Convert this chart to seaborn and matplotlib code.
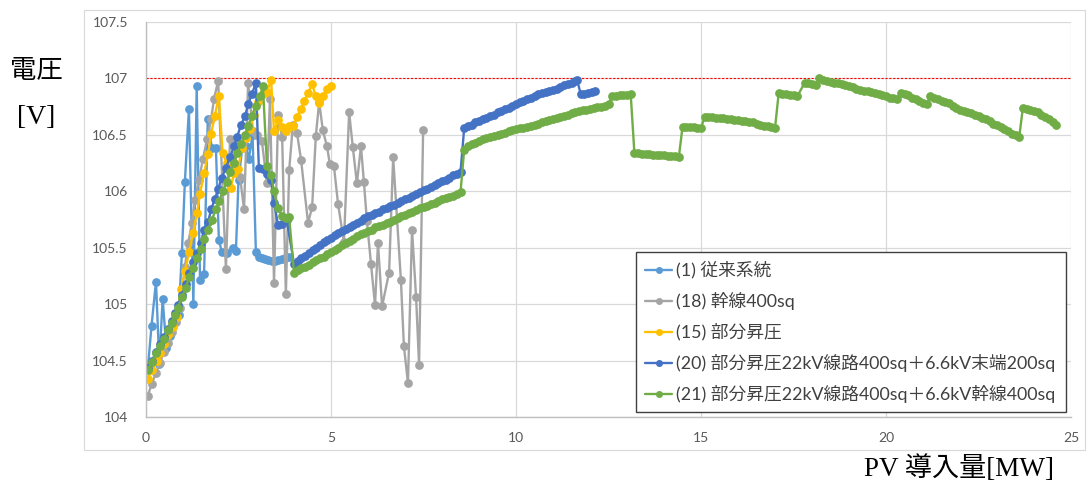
import matplotlib
matplotlib.use('Agg')
import matplotlib.pyplot as plt
import seaborn as sns
from matplotlib.patches import Rectangle

# (1) 従来系統
x1 = [0.05, 0.15, 0.27, 0.36, 0.45, 0.55, 0.66, 0.78, 0.88, 0.97, 1.05, 1.16, 1.28, 1.37, 1.46, 1.57, 1.67, 1.78,
      1.89, 1.97, 2.05, 2.19, 2.35, 2.43, 2.5, 2.6, 2.7, 2.78, 2.88, 2.97, 3.05, 3.14, 3.22, 3.31, 3.4, 3.49, 3.58,
      3.67, 3.76, 3.87]
y1 = [104.43, 104.81, 105.2, 104.47, 105.05, 104.61, 104.72, 104.85, 104.9, 105.45, 106.08, 106.73, 105.0, 106.93,
      105.21, 105.27, 106.64, 106.38, 106.38, 105.57, 105.46, 105.45, 105.5, 105.47, 106.1, 106.38, 106.4, 106.29,
      106.5, 105.46, 105.42, 105.41, 105.4, 105.39, 105.38, 105.38, 105.39, 105.4, 105.41, 105.42]

# (18) 幹線400sq
x2 = [0.05, 0.15, 0.27, 0.38, 0.49, 0.59, 0.7, 0.81, 0.92, 1.05, 1.14, 1.24, 1.32, 1.43, 1.54, 1.65, 1.76, 1.84, 1.95,
      2.16, 2.27, 2.38, 2.46, 2.54, 2.65, 2.76, 2.89, 3.0, 3.13, 3.27, 3.35, 3.46, 3.57, 3.68, 3.78, 3.87, 3.97, 4.08,
      4.19, 4.38, 4.49, 4.59, 4.68, 4.78, 4.89, 4.97, 5.08, 5.19, 5.35, 5.49, 5.59, 5.7, 5.81, 5.89, 5.97, 6.08, 6.19,
      6.27, 6.38, 6.57, 6.68, 6.89, 6.97, 7.08, 7.19, 7.3, 7.38, 7.49]
y2 = [104.19, 104.29, 104.39, 104.48, 104.58, 104.66, 104.75, 104.84, 104.97, 105.33, 105.54, 105.72, 105.92, 106.1,
      106.29, 106.46, 106.64, 106.82, 106.98, 105.31, 106.46, 106.42, 106.2, 106.13, 105.84, 106.96, 106.53, 106.5,
      106.45, 106.07, 106.82, 105.19, 106.68, 106.48, 105.09, 106.19, 106.59, 106.52, 106.28, 105.72, 105.86, 106.49,
      106.79, 106.54, 106.4, 106.24, 106.22, 105.89, 105.55, 106.7, 106.39, 106.07, 106.4, 106.08, 105.74, 105.36,
      104.99, 105.54, 104.98, 105.28, 106.3, 105.21, 104.63, 104.3, 105.66, 105.06, 104.46, 106.54]

# (15) 部分昇圧
x3 = [0.05, 0.17, 0.29, 0.39, 0.49, 0.6, 0.72, 0.83, 0.95, 1.05, 1.17, 1.27, 1.38, 1.46, 1.57, 1.68, 1.76, 1.86, 1.97,
      2.07, 2.18, 2.29, 2.38, 2.49, 2.59, 2.7, 2.81, 2.92, 3.03, 3.16, 3.27, 3.38, 3.46, 3.57, 3.68, 3.78, 3.87, 3.97,
      4.08, 4.19, 4.27, 4.38, 4.49, 4.59, 4.68, 4.78, 4.89, 5.0]
y3 = [104.34, 104.42, 104.5, 104.57, 104.65, 104.73, 104.8, 104.89, 105.13, 105.29, 105.46, 105.63, 105.81, 105.98,
      106.16, 106.33, 106.51, 106.67, 106.84, 106.34, 106.25, 106.03, 106.16, 106.2, 106.38, 106.47, 106.55, 106.68,
      106.79, 106.86, 106.88, 106.99, 106.53, 106.63, 106.57, 106.53, 106.58, 106.58, 106.66, 106.73, 106.8, 106.87,
      106.95, 106.84, 106.78, 106.84, 106.91, 106.93]

# (20) 部分昇圧22kV線路400sq＋6.6kV末端200sq
x4 = [0.05, 0.17, 0.27, 0.38, 0.49, 0.59, 0.7, 0.78, 0.86, 0.97, 1.08, 1.16, 1.27, 1.38, 1.48, 1.57, 1.68, 1.76, 1.86,
      1.95, 2.05, 2.16, 2.27, 2.38, 2.46, 2.57, 2.68, 2.76, 2.86, 2.97, 3.05, 3.16, 3.27, 3.38, 3.46, 3.57, 3.68, 3.8,
      4.0, 4.1, 4.2, 4.3, 4.4, 4.5, 4.6, 4.7, 4.8, 4.9, 5.0, 5.1, 5.2, 5.3, 5.4, 5.5, 5.6, 5.7, 5.8, 5.9, 6.0, 6.1,
      6.2, 6.3, 6.4, 6.5, 6.6, 6.7, 6.8, 6.9, 7.0, 7.1, 7.2, 7.3, 7.4, 7.5, 7.6, 7.7, 7.8, 7.9, 8.0, 8.1, 8.2, 8.3,
      8.4, 8.5,
      8.6, 8.7, 8.8, 8.9, 9.0, 9.1, 9.2, 9.3, 9.4, 9.5, 9.6, 9.7, 9.8, 9.9, 10.0, 10.1, 10.2, 10.3, 10.4, 10.5,
      10.6, 10.7, 10.8, 10.9, 11.0, 11.1, 11.2, 11.3, 11.4, 11.5, 11.6, 11.65, 11.75, 11.85, 11.95, 12.05, 12.14]
y4 = [104.43, 104.5, 104.58, 104.65, 104.71, 104.78, 104.85, 104.92, 104.99, 105.08, 105.18, 105.28, 105.37, 105.45,
      105.54, 105.66, 105.73, 105.84, 105.93, 106.02, 106.12, 106.21, 106.3, 106.4, 106.48, 106.59, 106.67, 106.77,
      106.86, 106.96, 106.21, 106.2, 106.15, 106.1, 105.9, 105.7, 105.71, 105.75,
      105.36, 105.38, 105.41, 105.43, 105.45, 105.48, 105.5, 105.52, 105.55, 105.57, 105.59, 105.61, 105.63, 105.65,
      105.67, 105.68, 105.7, 105.72, 105.74, 105.76, 105.78, 105.79, 105.81, 105.82, 105.84, 105.85, 105.87, 105.88,
      105.9, 105.91, 105.93, 105.94, 105.96, 105.98, 105.99, 106.01, 106.02, 106.04, 106.06, 106.07, 106.09, 106.1,
      106.12, 106.14, 106.15, 106.17,
      106.56, 106.58, 106.59, 106.61, 106.62, 106.64, 106.65, 106.67, 106.68, 106.7, 106.71, 106.73, 106.74, 106.76,
      106.77, 106.79, 106.8, 106.82, 106.83, 106.84, 106.86, 106.87, 106.88, 106.89, 106.9, 106.91, 106.92, 106.94,
      106.95, 106.96, 106.98, 106.99, 106.86, 106.86, 106.87, 106.88, 106.89]

# (21) 部分昇圧22kV線路400sq＋6.6kV幹線400sq
x5 = [0.05, 0.17, 0.27, 0.38, 0.49, 0.59, 0.7, 0.78, 0.86, 0.97, 1.08, 1.16, 1.27, 1.38, 1.49, 1.57, 1.68, 1.78, 1.89,
      1.97, 2.08, 2.18, 2.27, 2.38, 2.46, 2.57, 2.68, 2.76, 2.86, 2.97, 3.08, 3.16, 3.27, 3.38, 3.46, 3.57, 3.68, 3.78,
      3.87,
      4.0, 4.1, 4.2, 4.3, 4.4, 4.5, 4.6, 4.7, 4.8, 4.9, 5.0, 5.1, 5.2, 5.3, 5.4, 5.5, 5.6, 5.7, 5.8, 5.9, 6.0, 6.1,
      6.2, 6.3, 6.4, 6.5, 6.6, 6.7, 6.8, 6.9, 7.0, 7.1, 7.2, 7.3, 7.4, 7.5, 7.6, 7.7, 7.8, 7.9, 8.0, 8.1, 8.2, 8.3,
      8.4, 8.5,
      8.6, 8.7, 8.8, 8.9, 9.0, 9.1, 9.2, 9.3, 9.4, 9.5, 9.6, 9.7, 9.8, 9.9, 10.0, 10.1, 10.2, 10.3, 10.4, 10.5,
      10.6, 10.7, 10.8, 10.9, 11.0, 11.1, 11.2, 11.3, 11.4, 11.5, 11.6, 11.7, 11.8, 11.9, 12.0, 12.1, 12.2, 12.3,
      12.4, 12.5,
      12.6, 12.7, 12.8, 12.9, 13.0, 13.1,
      13.2, 13.3, 13.4, 13.5, 13.6, 13.7, 13.8, 13.9, 14.0, 14.1, 14.2, 14.3, 14.4,
      14.5, 14.6, 14.7, 14.8, 14.9, 15.0,
      15.1, 15.2, 15.3, 15.4, 15.5, 15.6, 15.7, 15.8, 15.9, 16.0, 16.1, 16.2, 16.3, 16.4, 16.5, 16.6, 16.7, 16.8,
      16.9, 17.0,
      17.1, 17.2, 17.3, 17.4, 17.5, 17.6,
      17.8, 17.9, 18.0, 18.1,
      18.2, 18.3, 18.4, 18.5, 18.6, 18.7, 18.8, 18.9, 19.0, 19.1, 19.2, 19.3, 19.4, 19.5, 19.6, 19.7, 19.8, 19.9,
      20.0, 20.1, 20.2, 20.3,
      20.4, 20.5, 20.6, 20.7, 20.8, 20.9, 21.0, 21.1,
      21.2, 21.3, 21.4, 21.5, 21.6, 21.7, 21.8, 21.9, 22.0, 22.1, 22.2, 22.3, 22.4, 22.5, 22.6, 22.7, 22.8, 22.9,
      23.0, 23.1, 23.2, 23.3, 23.4, 23.5, 23.6,
      23.7, 23.8, 23.9, 24.0, 24.1, 24.2, 24.3, 24.4, 24.5, 24.6]
y5 = [104.42, 104.49, 104.57, 104.63, 104.69, 104.77, 104.83, 104.9, 104.97, 105.06, 105.14, 105.24, 105.32, 105.41,
      105.49, 105.58, 105.66, 105.75, 105.84, 105.91, 106.0, 106.08, 106.17, 106.25, 106.34, 106.42, 106.5, 106.58,
      106.67, 106.76, 106.84, 106.93, 106.22, 106.14, 106.0, 105.85, 105.78, 105.76, 105.77,
      105.28, 105.3, 105.32, 105.33, 105.35, 105.37, 105.39, 105.41, 105.42, 105.44, 105.46, 105.48, 105.5, 105.52,
      105.54, 105.56, 105.58, 105.6, 105.62, 105.63, 105.65, 105.66, 105.68, 105.69, 105.7, 105.72, 105.73, 105.75,
      105.76, 105.78, 105.79, 105.81, 105.82, 105.83, 105.85, 105.86, 105.87, 105.89, 105.9, 105.91, 105.93, 105.94,
      105.95, 105.96, 105.98, 105.99,
      106.37, 106.4, 106.42, 106.43, 106.45, 106.46, 106.47, 106.48, 106.49, 106.5, 106.51, 106.52, 106.53, 106.54,
      106.55, 106.56, 106.56, 106.57, 106.58, 106.59, 106.6, 106.61, 106.62, 106.63, 106.64, 106.65, 106.66, 106.67,
      106.68, 106.69, 106.7, 106.71, 106.72, 106.72, 106.73, 106.74, 106.75, 106.75, 106.76, 106.77,
      106.84, 106.84, 106.85, 106.85, 106.85, 106.86,
      106.34, 106.34, 106.33, 106.33, 106.33, 106.32, 106.32, 106.32, 106.32, 106.31, 106.31, 106.31, 106.3,
      106.57, 106.57, 106.57, 106.57, 106.56, 106.56,
      106.66, 106.66, 106.66, 106.65, 106.65, 106.65, 106.64, 106.64, 106.63, 106.63, 106.62, 106.62, 106.61, 106.61,
      106.6, 106.59, 106.58, 106.58, 106.57, 106.56,
      106.87, 106.86, 106.86, 106.85, 106.85, 106.84,
      106.96, 106.96, 106.95, 106.94,
      107.0, 106.99, 106.98, 106.97, 106.96, 106.96, 106.95, 106.94, 106.93, 106.92, 106.91, 106.9, 106.89, 106.89,
      106.88, 106.87, 106.86, 106.85, 106.84, 106.83, 106.83, 106.82,
      106.87, 106.86, 106.85, 106.83, 106.82, 106.8, 106.78, 106.77,
      106.84, 106.83, 106.82, 106.8, 106.79, 106.78, 106.76, 106.74, 106.72, 106.71, 106.7, 106.69, 106.68, 106.67,
      106.65, 106.64, 106.62, 106.6, 106.59, 106.57, 106.55, 106.53, 106.51, 106.5, 106.48,
      106.74, 106.73, 106.72, 106.71, 106.7, 106.68, 106.66, 106.64, 106.61, 106.59]

labels = ['(1) 従来系統', '(18) 幹線400sq', '(15) 部分昇圧',
          '(20) 部分昇圧22kV線路400sq＋6.6kV末端200sq',
          '(21) 部分昇圧22kV線路400sq＋6.6kV幹線400sq']
colors = ['#5B9BD5', '#A5A5A5', '#FFC000', '#4472C4', '#70AD47']
series = [(x1, y1), (x2, y2), (x3, y3), (x4, y4), (x5, y5)]

x_ticks = [0, 5, 10, 15, 20, 25]
y_ticks = [104, 104.5, 105, 105.5, 106, 106.5, 107, 107.5]
y_tick_labels = ['104', '104.5', '105', '105.5', '106', '106.5', '107', '107.5']
limit_v = 107

sns.set_theme(style='white')
plt.rcParams['font.family'] = ['Lato', 'Noto Sans CJK JP', 'DejaVu Sans']

W, H = 1087, 487
fig = plt.figure(figsize=(W / 100, H / 100), dpi=100)
ax = fig.add_axes([146 / W, 1 - 417 / H, 925 / W, 395 / H])

ax.axhline(limit_v, color='#FF0000', linestyle=(0, (2, 1.5)), linewidth=0.8, zorder=1)

for (xs, ys), lab, col in zip(series, labels, colors):
    sns.lineplot(x=xs, y=ys, ax=ax, color=col, label=lab, marker='o', markersize=6.3,
                 markeredgewidth=0, linewidth=1.7, sort=False, estimator=None, errorbar=None)

ax.set_xlim(0, 25)
ax.set_ylim(104, 107.5)
ax.set_xticks(x_ticks)
ax.set_xticklabels([str(t) for t in x_ticks])
ax.set_yticks(y_ticks)
ax.set_yticklabels(y_tick_labels)
ax.tick_params(axis='both', length=0, labelsize=10, labelcolor='#595959')
ax.tick_params(axis='x', pad=11)
ax.tick_params(axis='y', pad=13)
ax.grid(True, color='#D9D9D9', linewidth=0.9)
ax.set_axisbelow(True)
for side in ['top', 'right']:
    ax.spines[side].set_visible(False)
for side in ['left', 'bottom']:
    ax.spines[side].set_color('#BFBFBF')
    ax.spines[side].set_linewidth(1.0)
ax.set_xlabel('')
ax.set_ylabel('')

leg = ax.legend(loc='lower left', bbox_to_anchor=(490 / 925, 5 / 395, 430 / 925, 0.4), mode='expand',
                frameon=True, fancybox=False, edgecolor='#404040', framealpha=1, fontsize=12.8,
                handlelength=1.55, handletextpad=0.2, labelspacing=0.74, borderpad=0.5, borderaxespad=0,
                markerscale=0.8)
leg.get_frame().set_linewidth(1.0)
for t in leg.get_texts():
    t.set_color('#404040')

fig.text(36 / W, 1 - 70 / H, '電圧', ha='center', va='center', fontsize=19, color='black',
         family=['Noto Sans CJK JP'])
fig.text(36 / W, 1 - 118 / H, '[V]', ha='center', va='center', fontsize=20, color='black',
         family=['Liberation Serif'])
fig.text(959 / W, 1 - 469 / H, 'PV 導入量[MW]', ha='center', va='center', fontsize=19.5, color='black',
         family=['Liberation Serif', 'Noto Sans CJK JP'])

fig.add_artist(Rectangle((84 / W, 1 - 450 / H), (1085 - 84) / W, 440 / H, transform=fig.transFigure,
                         fill=False, edgecolor='#D9D9D9', linewidth=0.8))

fig.savefig('out.png', dpi=100)
